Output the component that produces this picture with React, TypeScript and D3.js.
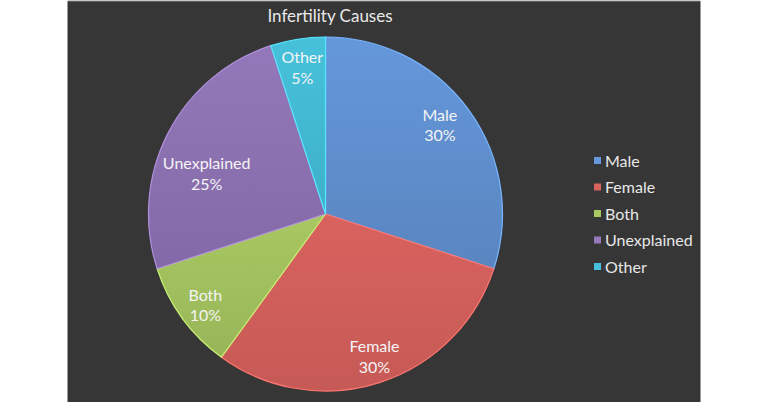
import React from "react";
import * as d3 from "d3";

const categories = ["Male", "Female", "Both", "Unexplained", "Other"];
const values = [30, 30, 10, 25, 5];
const colors = ["#6497db", "#d8625e", "#a8c862", "#9479ba", "#47c1db"];
const darkColors = ["#5a86c0", "#c65a56", "#98b658", "#8469a8", "#3eb0c8"];
const title = "Infertility Causes";

const W = 768, H = 402;
const cx = 325.5, cy = 214, R = 177;
const FONT = "Lato, 'Open Sans', sans-serif";
// label placement (layout only)
const labelRadius = [0.82, 0.85, 0.85, 0.71, 0.84];
const labelAngleShift = [-2, -1, -1, -8, 0];

export default function App() {
  const pie = d3.pie<number>().sort(null).value((d) => d);
  const arcs = pie(values);
  const arc = d3.arc<d3.PieArcDatum<number>>().innerRadius(0).outerRadius(R);
  const total = d3.sum(values);
  const legendY = d3.scalePoint<string>().domain(categories).range([161, 267]);

  return (
    <svg width={W} height={H} style={{ position: "absolute", left: 0, top: 0, display: "block" }}>
      <defs>
        {colors.map((c, i) => (
          <linearGradient key={i} id={`g${i}`} x1="0" y1="0" x2="0" y2="1">
            <stop offset="0%" stopColor={c} />
            <stop offset="100%" stopColor={darkColors[i]} />
          </linearGradient>
        ))}
      </defs>
      <rect x={0} y={0} width={W} height={H} fill="#ffffff" />
      <rect x={68} y={1} width={632} height={H} fill="#363636" />
      <line x1={68} x2={700} y1={1} y2={1} stroke="#8a8a8a" strokeWidth={1} />
      <line x1={67.5} x2={67.5} y1={1} y2={H} stroke="#9a9a9a" strokeWidth={1} />
      <line x1={700.5} x2={700.5} y1={1} y2={H} stroke="#9a9a9a" strokeWidth={1} />
      <text x={330} y={22} textAnchor="middle" fill="#e8e8e8" fontFamily={FONT} fontSize={17}>
        {title}
      </text>
      <g transform={`translate(${cx},${cy})`}>
        {arcs.map((a, i) => (
          <path key={i} d={arc(a) || ""} fill={`url(#g${i})`} stroke={d3.color(colors[i])!.brighter(0.5).toString()} strokeWidth={1.2} strokeLinejoin="round" />
        ))}
        {arcs.map((a, i) => {
          const ang = (a.startAngle + a.endAngle) / 2 + (labelAngleShift[i] * Math.PI) / 180;
          const r = R * labelRadius[i];
          const lx = r * Math.sin(ang);
          const ly = -r * Math.cos(ang);
          const pct = Math.round((values[i] / total) * 100);
          return (
            <text key={i} x={lx} y={ly} textAnchor="middle" fill="#f4f4f4" fontFamily={FONT} fontSize={16}>
              <tspan x={lx} dy={-4}>{categories[i]}</tspan>
              <tspan x={lx} dy={20.5}>{pct}%</tspan>
            </text>
          );
        })}
      </g>
      <g>
        {categories.map((c, i) => (
          <g key={c} transform={`translate(594,${legendY(c)})`}>
            <rect x={0} y={-4} width={7} height={7} fill={colors[i]} />
            <text x={11} y={5.5} fill="#e8e8e8" fontFamily={FONT} fontSize={16}>{c}</text>
          </g>
        ))}
      </g>
    </svg>
  );
}
